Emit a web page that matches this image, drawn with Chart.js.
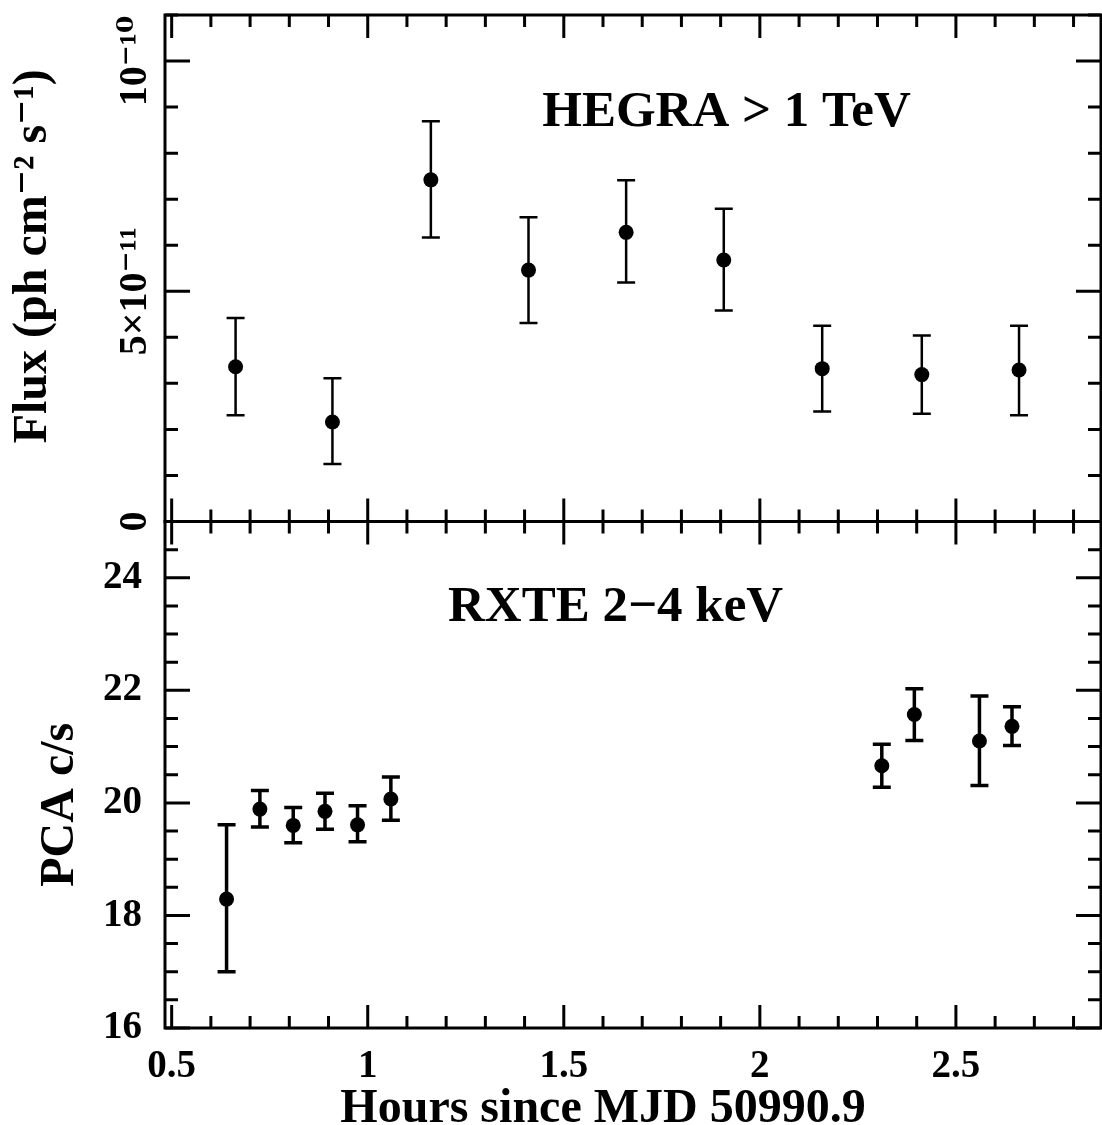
<!DOCTYPE html>
<html>
<head>
<meta charset="utf-8">
<script src="https://cdn.jsdelivr.net/npm/chart.js@4.4.0/dist/chart.umd.min.js"></script>
<style>
html, body { margin: 0; padding: 0; background: #fff; }
canvas { display: block; }
</style>
</head>
<body>
<canvas id="lc" width="1102" height="1125"></canvas>
<script>
// HEGRA > 1 TeV light curve (flux in units of 1e-11 ph cm^-2 s^-1)
var hegraHours = [0.663, 0.910, 1.161, 1.410, 1.659, 1.908, 2.159, 2.413, 2.661];
var hegraFlux  = [3.36, 2.16, 7.42, 5.46, 6.28, 5.68, 3.32, 3.19, 3.29];
var hegraLow   = [2.31, 1.25, 6.17, 4.31, 5.19, 4.58, 2.39, 2.34, 2.31];
var hegraHigh  = [4.42, 3.11, 8.69, 6.61, 7.41, 6.79, 4.25, 4.04, 4.25];

// RXTE PCA 2-4 keV count rate (c/s)
var rxteHours = [0.640, 0.725, 0.810, 0.891, 0.974, 1.059, 2.311, 2.394, 2.560, 2.643];
var rxteRate  = [18.29, 19.89, 19.60, 19.85, 19.61, 20.07, 20.66, 21.57, 21.10, 21.36];
var rxteLow   = [17.00, 19.57, 19.29, 19.53, 19.31, 19.69, 20.28, 21.11, 20.31, 21.02];
var rxteHigh  = [19.61, 20.22, 19.92, 20.17, 19.95, 20.46, 21.04, 22.03, 21.90, 21.71];

// tick labels of the flux axis (drawn rotated)
var fluxTickValues = [0, 5, 10];
var fluxTickLabels = ['0', '5\u00d710\u207b\u00b9\u00b9', '10\u207b\u00b9\u2070'];

var FONT = '"Liberation Serif", "DejaVu Serif", serif';

function points(xs, ys) {
  return xs.map(function(x, i) { return { x: x, y: ys[i] }; });
}

// run through minor ticks between min and max, flag the major ones
function eachTick(min, max, major, minor, fn) {
  var start = Math.ceil(min / minor - 1e-6), end = Math.floor(max / minor + 1e-6);
  for (var i = start; i <= end; i++) {
    var v = i * minor;
    var r = v / major;
    fn(v, Math.abs(r - Math.round(r)) < 1e-6);
  }
}

// no extra room for half labels at the ends of the axes
function noPad(s) {
  s.paddingTop = 0; s.paddingBottom = 0;
  s.paddingLeft = 0; s.paddingRight = 0;
}

var framePlugin = {
  id: 'frame',
  beforeDatasetsDraw: function(chart) {
    var ctx = chart.ctx, xs = chart.scales.x;
    var sets = [
      [chart.scales.yTop, hegraHours, hegraLow, hegraHigh, 2.5],
      [chart.scales.yBot, rxteHours, rxteLow, rxteHigh, 3.5]
    ];
    ctx.save();
    ctx.strokeStyle = '#000';
    sets.forEach(function(s) {
      ctx.lineWidth = s[4];
      for (var i = 0; i < s[1].length; i++) {
        var px = xs.getPixelForValue(s[1][i]);
        var lo = s[0].getPixelForValue(s[2][i]);
        var hi = s[0].getPixelForValue(s[3][i]);
        ctx.beginPath();
        ctx.moveTo(px, lo); ctx.lineTo(px, hi);
        ctx.moveTo(px - 9, lo); ctx.lineTo(px + 9, lo);
        ctx.moveTo(px - 9, hi); ctx.lineTo(px + 9, hi);
        ctx.stroke();
      }
    });
    ctx.restore();
  },
  afterDraw: function(chart) {
    var ctx = chart.ctx, xs = chart.scales.x;
    var panels = [
      [chart.scales.yTop, 5, 1],
      [chart.scales.yBot, 2, 0.5]
    ];
    ctx.save();
    ctx.strokeStyle = '#000';
    ctx.fillStyle = '#000';
    panels.forEach(function(p) {
      var ys = p[0];
      var l = xs.left, r = xs.right, t = ys.top, b = ys.bottom;
      ctx.lineWidth = 3;
      ctx.strokeRect(l, t, r - l, b - t);
      ctx.beginPath();
      eachTick(xs.min, xs.max, 0.5, 0.1, function(v, major) {
        var px = xs.getPixelForValue(v), len = major ? 23 : 12;
        ctx.moveTo(px, t); ctx.lineTo(px, t + len);
        ctx.moveTo(px, b); ctx.lineTo(px, b - len);
      });
      eachTick(ys.min, ys.max, p[1], p[2], function(v, major) {
        var py = ys.getPixelForValue(v), len = major ? 25 : 13;
        ctx.moveTo(l, py); ctx.lineTo(l + len, py);
        ctx.moveTo(r, py); ctx.lineTo(r - len, py);
      });
      ctx.stroke();
    });

    // rotated flux tick labels
    var yt = chart.scales.yTop;
    ctx.font = 'bold 40px ' + FONT;
    ctx.textAlign = 'center';
    ctx.textBaseline = 'middle';
    fluxTickValues.forEach(function(v, i) {
      ctx.save();
      ctx.translate(xs.left - 29, yt.getPixelForValue(v));
      ctx.rotate(-Math.PI / 2);
      ctx.fillText(fluxTickLabels[i], 0, 0);
      ctx.restore();
    });

    // panel captions
    ctx.font = 'bold 51px ' + FONT;
    ctx.fillText('HEGRA > 1 TeV', xs.getPixelForValue(1.915), yt.getPixelForValue(8.88));
    ctx.fillText('RXTE 2\u22124 keV', xs.getPixelForValue(1.632), chart.scales.yBot.getPixelForValue(23.47));
    ctx.restore();
  }
};

var tickFont = { family: FONT, size: 39, weight: 'bold' };
var titleFont = { family: FONT, size: 48, weight: 'bold', lineHeight: 1 };

new Chart(document.getElementById('lc'), {
  type: 'scatter',
  data: {
    datasets: [{
      label: 'HEGRA > 1 TeV',
      data: points(hegraHours, hegraFlux),
      yAxisID: 'yTop',
      pointRadius: 7.5,
      pointBackgroundColor: '#000',
      pointBorderWidth: 0
    }, {
      label: 'RXTE 2-4 keV',
      data: points(rxteHours, rxteRate),
      yAxisID: 'yBot',
      pointRadius: 7.5,
      pointBackgroundColor: '#000',
      pointBorderWidth: 0
    }]
  },
  options: {
    responsive: false,
    animation: false,
    layout: { autoPadding: false, padding: { top: 15, right: 1, left: 0, bottom: 0 } },
    plugins: { legend: { display: false }, tooltip: { enabled: false } },
    scales: {
      x: {
        type: 'linear',
        position: 'bottom',
        min: 0.483,
        max: 2.87,
        grid: { display: false, drawTicks: false },
        border: { display: false },
        ticks: {
          stepSize: 0.5, includeBounds: false, padding: 16, autoSkip: false, maxRotation: 0,
          color: '#000', font: tickFont,
          callback: function(v) { return String(v); }
        },
        title: { display: true, text: 'Hours since MJD 50990.9     ', color: '#000', font: { family: FONT, size: 48, weight: 'bold', lineHeight: 1 }, padding: { top: 0, bottom: -9 } },
        afterFit: function(s) { s.height = 97; noPad(s); }
      },
      yBot: {
        type: 'linear',
        position: 'left',
        stack: 'panels',
        stackWeight: 1,
        min: 16,
        max: 25,
        grid: { display: false, drawTicks: false },
        border: { display: false },
        ticks: { stepSize: 2, includeBounds: false, padding: 23, color: '#000', font: tickFont },
        title: { display: true, text: 'PCA c/s     ', color: '#000', font: titleFont, padding: { top: 37, bottom: 0 } },
        afterFit: function(s) { s.width = 165; noPad(s); }
      },
      yTop: {
        type: 'linear',
        position: 'left',
        stack: 'panels',
        stackWeight: 1,
        min: 0,
        max: 11,
        grid: { display: false, drawTicks: false },
        border: { display: false },
        ticks: { display: false, stepSize: 5, includeBounds: false },
        title: { display: true, text: '  Flux (ph cm\u207b\u00b2 s\u207b\u00b9)', color: '#000', font: titleFont, padding: { top: 10, bottom: 0 } },
        afterFit: function(s) { s.width = 165; noPad(s); }
      }
    }
  },
  plugins: [framePlugin]
});
</script>
</body>
</html>
